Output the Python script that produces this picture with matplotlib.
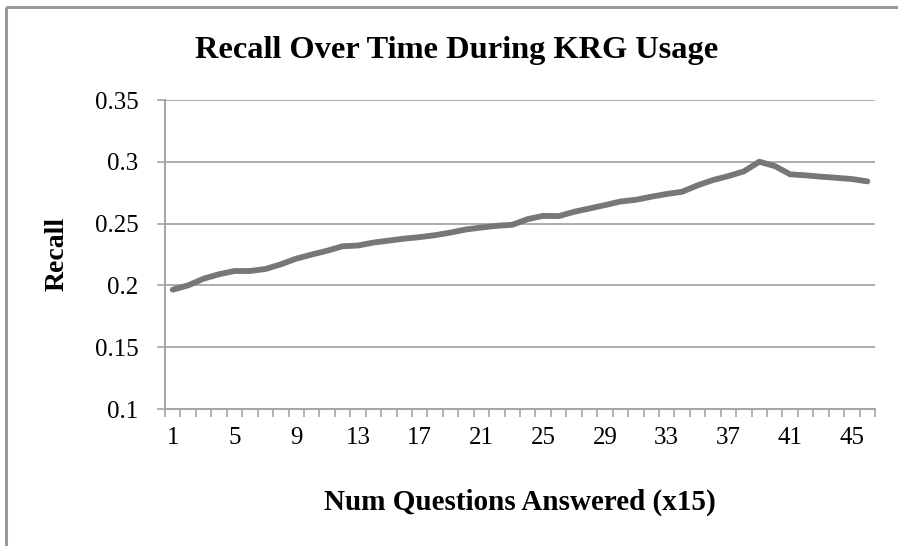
import matplotlib.pyplot as plt
from matplotlib.lines import Line2D

# Recall value per batch of 15 questions
batch = list(range(1, 47))
recall = [0.1965, 0.2000, 0.2054, 0.2090, 0.2116, 0.2116, 0.2132, 0.2170, 0.2216, 0.2249,
          0.2280, 0.2316, 0.2322, 0.2346, 0.2362, 0.2378, 0.2390, 0.2406, 0.2427, 0.2452,
          0.2468, 0.2482, 0.2490, 0.2536, 0.2562, 0.2560, 0.2595, 0.2622, 0.2649, 0.2678,
          0.2692, 0.2717, 0.2739, 0.2757, 0.2809, 0.2852, 0.2884, 0.2922, 0.3000, 0.2965,
          0.2898, 0.2890, 0.2879, 0.2870, 0.2860, 0.2841]

y_ticks = [0.1, 0.15, 0.2, 0.25, 0.3, 0.35]
y_labels = ['0.1', '0.15', '0.2', '0.25', '0.3', '0.35']
x_labels = list(range(1, 47, 4))

plt.rcParams['font.family'] = ['Liberation Serif', 'DejaVu Serif']
grey = '#a6a6a6'

fig = plt.figure(figsize=(8.981, 5.461), dpi=100)
ax = fig.add_axes([165 / 898, 1 - 409 / 546, 710 / 898, 309 / 546])

ax.plot(batch, recall, color='#777777', lw=4.2, solid_capstyle='round', solid_joinstyle='round')

ax.set_xlim(0.5, 46.5)
ax.set_ylim(0.1, 0.35)

# y axis
ax.set_yticks(y_ticks)
ax.set_yticklabels(y_labels)
ax.tick_params(axis='y', direction='out', length=6, width=1.2, color=grey,
               pad=13, labelsize=18)
ax.yaxis.grid(True, color=grey, lw=1.3)
ax.set_axisbelow(True)

# x axis: tick marks between categories, labels at every 4th category
ax.set_xticks([b - 0.5 for b in batch] + [batch[-1] + 0.5])
ax.set_xticklabels([])
ax.tick_params(axis='x', which='major', direction='out', length=6, width=1.2, color=grey)
ax.set_xticks(x_labels, minor=True)
ax.set_xticklabels([str(v) for v in x_labels], minor=True)
ax.tick_params(axis='x', which='minor', length=0, pad=13, labelsize=18)

for s in ['top', 'right']:
    ax.spines[s].set_visible(False)
for s in ['left', 'bottom']:
    ax.spines[s].set_color(grey)
    ax.spines[s].set_linewidth(1.5)

fig.text(457 / 898, 1 - 50 / 546, 'Recall Over Time During KRG Usage',
         ha='center', va='center', fontsize=23.3, fontweight='bold')
fig.text(57 / 898, 1 - 254 / 546, 'Recall', rotation=90,
         ha='center', va='center', fontsize=20, fontweight='bold')
fig.text(520 / 898, 1 - 502 / 546, 'Num Questions Answered (x15)',
         ha='center', va='center', fontsize=21, fontweight='bold')

# outer chart-area border: only top and left edges fall inside the image
x0, y0 = 6 / 898, 1 - 7 / 546
fig.lines.append(Line2D([x0, 1.02], [y0, y0], transform=fig.transFigure,
                        color='#999999', lw=2.2, solid_capstyle='butt'))
fig.lines.append(Line2D([x0, x0], [-0.02, y0], transform=fig.transFigure,
                        color='#999999', lw=2.2, solid_capstyle='butt'))

fig.savefig('out.png', dpi=100)
